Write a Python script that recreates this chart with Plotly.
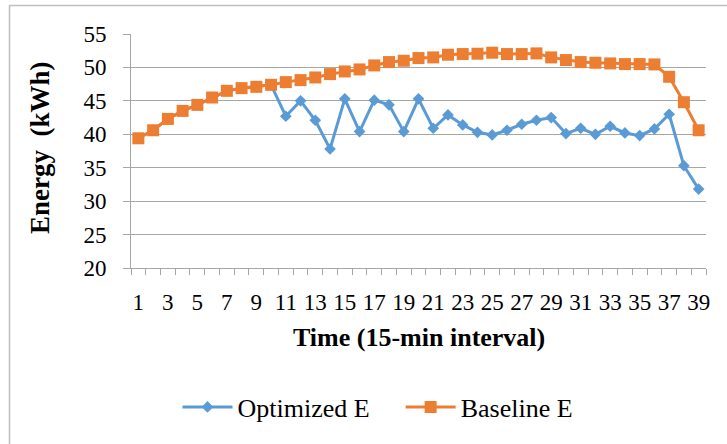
import plotly.graph_objects as go

time_idx = list(range(1, 40))
optimized_e = [39.4, 40.6, 42.3, 43.5, 44.4, 45.5, 46.5, 46.9, 47.1, 47.4,
               42.7, 45.0, 42.1, 37.8, 45.3, 40.4, 45.1, 44.4, 40.4, 45.3,
               40.9, 42.9, 41.4, 40.3, 39.9, 40.6, 41.5, 42.1, 42.5, 40.1,
               40.9, 40.0, 41.2, 40.2, 39.8, 40.8, 43.0, 35.3, 31.8]
baseline_e = [39.4, 40.6, 42.3, 43.5, 44.4, 45.5, 46.5, 46.9, 47.1, 47.4,
              47.8, 48.1, 48.5, 49.0, 49.4, 49.7, 50.3, 50.8, 51.0, 51.4,
              51.5, 51.9, 52.0, 52.05, 52.2, 52.0, 52.0, 52.1, 51.5, 51.1,
              50.8, 50.7, 50.6, 50.5, 50.5, 50.45, 48.6, 44.8, 40.6]
x_labels = [str(v) for v in range(1, 40, 2)]

BLUE = "#5B9BD5"
ORANGE = "#ED7D31"
GRID = "#A6A6A6"
FONT = "Liberation Serif"

fig = go.Figure()
fig.add_trace(go.Scatter(x=time_idx, y=optimized_e, mode="lines+markers",
                         name="Optimized E\u00a0\u00a0\u00a0\u00a0",
                         line=dict(color=BLUE, width=3),
                         marker=dict(symbol="diamond", size=9, color=BLUE)))
fig.add_trace(go.Scatter(x=time_idx, y=baseline_e, mode="lines+markers", name="Baseline E",
                         line=dict(color=ORANGE, width=3),
                         marker=dict(symbol="square", size=12, color=ORANGE)))

L, R, T, B = 131, 21, 34, 176
W, H = 727, 444
pw, ph = W - L - R, H - T - B

def px(x):
    return (x - L) / pw

def py(y):
    return (H - B - y) / ph

fig.update_layout(
    width=W, height=H,
    margin=dict(l=L, r=R, t=T, b=B, pad=0),
    paper_bgcolor="white", plot_bgcolor="white",
    font=dict(family=FONT, size=23, color="black"),
    showlegend=True,
    legend=dict(orientation="h", x=px(378), y=py(407), xanchor="center", yanchor="middle",
                font=dict(family=FONT, size=26, color="black"),
                itemwidth=50, tracegroupgap=0, bgcolor="rgba(0,0,0,0)"),
    xaxis=dict(range=[0.5, 39.5], tickmode="array", tickvals=list(range(1, 40, 2)),
               ticktext=x_labels, ticks="", showgrid=False, zeroline=False,
               showline=True, linecolor=GRID, linewidth=1,
               ticklabelstandoff=13,
               minor=dict(tickmode="array", tickvals=[i + 0.5 for i in range(0, 40)],
                          ticks="outside", ticklen=6, tickcolor=GRID, showgrid=False),
               tickfont=dict(family=FONT, size=23, color="black")),
    yaxis=dict(range=[20, 55], tickmode="linear", tick0=20, dtick=5,
               ticks="outside", ticklen=7, tickcolor=GRID,
               showgrid=True, gridcolor=GRID, gridwidth=1, zeroline=False,
               showline=True, linecolor=GRID, linewidth=1,
               ticklabelstandoff=12,
               tickfont=dict(family=FONT, size=23, color="black")),
    annotations=[
        dict(text="<b>Time (15-min interval)</b>", xref="paper", yref="paper",
             x=px(419), y=py(337), xanchor="center", yanchor="middle", showarrow=False,
             font=dict(family=FONT, size=26, color="black")),
        dict(text="<b>Energy\u00a0\u00a0(kWh)</b>", xref="paper", yref="paper",
             x=px(40), y=py(148), xanchor="center", yanchor="middle", showarrow=False,
             textangle=-90, font=dict(family=FONT, size=27, color="black")),
    ],
    shapes=[
        dict(type="rect", xref="paper", yref="paper", x0=px(9.5), x1=px(740),
             y0=py(460), y1=py(5.5), line=dict(color="#BFBFBF", width=1.5), layer="below"),
    ],
)

fig.write_html("out.html")
